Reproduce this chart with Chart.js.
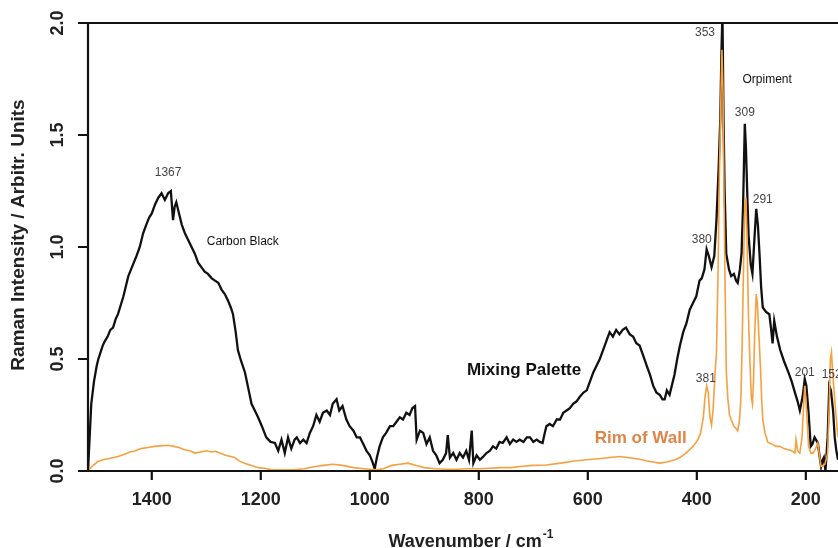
<!DOCTYPE html>
<html>
<head>
<meta charset="utf-8">
<script src="https://cdn.jsdelivr.net/npm/chart.js@4.4.1/dist/chart.umd.min.js"></script>
<style>
html,body{margin:0;padding:0;background:#fff;}
#wrap{width:838px;height:548px;position:relative;}
</style>
</head>
<body>
<div id="wrap"><canvas id="c" width="838" height="548"></canvas></div>
<script>
// ---- Data ----
const yTicks = [0.0, 0.5, 1.0, 1.5, 2.0];
const yTickLabels = ["0.0", "0.5", "1.0", "1.5", "2.0"];
const xTicks = [1400, 1200, 1000, 800, 600, 400, 200];
const xTickLabels = ["1400", "1200", "1000", "800", "600", "400", "200"];

const paletteWn = [1517,1514,1511,1506,1501,1498,1494,1490,1486,1481,1476,1471,1466,1462,1457,1452,1447,1443,1438,1433,1428,1422,1416,1410,1405,1400,1394,1388,1382,1376,1370,1365,1361,1358,1355,1350,1345,1339,1333,1327,1321,1315,1309,1303,1297,1290,1284,1278,1272,1266,1260,1255,1251,1246,1242,1236,1229,1223,1217,1211,1205,1198,1190,1182,1174,1168,1162,1156,1150,1144,1138,1134,1128,1122,1116,1110,1104,1098,1092,1086,1079,1073,1068,1061,1056,1050,1043,1037,1030,1024,1018,1012,1006,1000,995,991,987,982,976,970,963,957,951,945,939,933,927,922,917,914,908,902,896,890,884,878,872,866,860,857,853,847,841,835,829,823,818,813,810,804,798,792,786,780,774,768,762,756,749,743,737,731,725,718,712,706,700,694,688,683,679,676,670,664,657,651,645,639,633,627,621,615,608,602,596,590,584,578,572,566,560,554,548,542,536,530,523,517,511,505,499,492,486,480,474,468,463,459,455,450,446,441,436,431,425,419,413,407,401,395,391,386,382,378,373,368,364,360,357,355,353,351,349,346,341,337,332,328,325,321,318,315,312,310,307,305,301,298,294,291,288,285,282,279,273,267,264,261,258,253,247,240,232,226,220,215,211,206,202,199,195,191,188,184,178,175,172,169,167,164,160,157,154,150,147,144,141];
const paletteVal = [0.00,0.15,0.30,0.40,0.47,0.50,0.53,0.56,0.58,0.60,0.63,0.64,0.68,0.70,0.74,0.78,0.83,0.87,0.90,0.93,0.96,1.00,1.06,1.10,1.13,1.15,1.19,1.22,1.24,1.21,1.24,1.25,1.12,1.18,1.20,1.15,1.10,1.06,1.03,1.00,0.97,0.93,0.91,0.89,0.88,0.86,0.85,0.84,0.81,0.79,0.76,0.73,0.70,0.62,0.54,0.49,0.44,0.37,0.30,0.27,0.24,0.20,0.15,0.13,0.125,0.09,0.14,0.08,0.15,0.10,0.14,0.15,0.125,0.14,0.125,0.17,0.20,0.25,0.22,0.26,0.27,0.25,0.30,0.32,0.27,0.29,0.23,0.20,0.18,0.15,0.15,0.12,0.09,0.07,0.04,0.01,0.06,0.11,0.15,0.17,0.20,0.20,0.22,0.24,0.23,0.26,0.25,0.28,0.29,0.14,0.18,0.17,0.12,0.15,0.09,0.07,0.035,0.05,0.08,0.16,0.06,0.08,0.05,0.08,0.06,0.09,0.05,0.18,0.035,0.07,0.05,0.064,0.08,0.09,0.11,0.10,0.13,0.125,0.15,0.12,0.14,0.13,0.14,0.13,0.15,0.15,0.13,0.14,0.13,0.125,0.17,0.20,0.21,0.20,0.23,0.23,0.26,0.27,0.28,0.30,0.31,0.33,0.35,0.36,0.40,0.44,0.47,0.50,0.54,0.58,0.62,0.60,0.63,0.61,0.63,0.64,0.61,0.60,0.57,0.56,0.52,0.47,0.43,0.38,0.35,0.34,0.32,0.32,0.36,0.34,0.38,0.43,0.50,0.56,0.62,0.66,0.72,0.75,0.78,0.85,0.86,0.90,0.99,0.96,0.91,0.96,1.12,1.35,1.57,1.85,2.05,1.57,1.25,0.97,0.90,0.87,0.88,0.85,0.84,0.90,0.97,1.20,1.55,1.45,1.20,1.05,0.92,0.88,1.05,1.17,1.10,0.97,0.82,0.73,0.71,0.70,0.64,0.57,0.67,0.60,0.54,0.49,0.44,0.40,0.35,0.31,0.27,0.33,0.41,0.38,0.26,0.11,0.12,0.15,0.125,0.07,0.02,0.05,0.06,0.00,0.15,0.38,0.36,0.27,0.15,0.09,0.05];

const rimWn = [1517,1510,1500,1490,1480,1470,1462,1450,1440,1430,1420,1407,1395,1385,1370,1360,1350,1340,1330,1321,1310,1300,1290,1284,1275,1265,1255,1248,1240,1230,1217,1205,1193,1180,1160,1140,1120,1100,1085,1068,1050,1030,1010,990,975,960,945,930,915,900,880,860,840,820,800,780,760,740,725,700,676,650,625,602,580,560,541,520,500,492,480,468,455,440,431,420,407,398,393,388,385,382,379,376,373,370,367,364,361,359,356,354,352,350,348,346,343,340,337,332,328,325,322,319,317,314,312,310,308,305,302,300,298,296,294,291,289,286,283,281,279,275,270,267,262,255,248,240,232,226,220,218,215,211,207,204,202,200,197,195,191,187,182,178,175,172,168,165,160,157,155,153,151,148,144,141];
const rimVal = [0.00,0.02,0.04,0.05,0.055,0.06,0.065,0.075,0.085,0.09,0.10,0.105,0.11,0.112,0.115,0.11,0.105,0.095,0.09,0.08,0.085,0.09,0.085,0.088,0.08,0.07,0.065,0.06,0.045,0.035,0.025,0.015,0.012,0.005,0.005,0.005,0.01,0.02,0.025,0.03,0.025,0.015,0.01,0.005,0.01,0.025,0.03,0.035,0.025,0.015,0.01,0.008,0.008,0.01,0.01,0.012,0.015,0.015,0.02,0.025,0.027,0.035,0.045,0.05,0.055,0.06,0.065,0.058,0.05,0.045,0.04,0.035,0.04,0.05,0.06,0.08,0.11,0.14,0.17,0.24,0.33,0.38,0.35,0.24,0.205,0.28,0.42,0.53,0.90,1.27,1.65,1.88,1.70,1.20,0.80,0.45,0.32,0.25,0.23,0.20,0.19,0.18,0.22,0.33,0.55,0.95,1.19,1.22,1.05,0.67,0.45,0.33,0.30,0.40,0.60,0.79,0.75,0.60,0.45,0.32,0.23,0.17,0.13,0.125,0.12,0.11,0.11,0.10,0.095,0.09,0.08,0.14,0.09,0.08,0.15,0.30,0.38,0.32,0.20,0.11,0.08,0.08,0.10,0.125,0.07,0.02,0.025,0.03,0.08,0.30,0.50,0.53,0.45,0.35,0.23,0.15];

const peakLabels = ["1367","353","309","291","380","381","201","152"];
const peakLabelWn = [1370,385,312,279,391,383.5,202,171];
const peakLabelVal = [1.33,1.955,1.60,1.21,1.033,0.413,0.44,0.43];

const noteLabels = ["Carbon Black","Orpiment"];
const noteLabelWn = [1233,271];
const noteLabelVal = [1.025,1.745];

const seriesNames = ["Mixing Palette","Rim of Wall"];
const seriesNameWn = [717,503];
const seriesNameVal = [0.448,0.146];

const yTitle = "Raman Intensity / Arbitr. Units";
const xTitle = "Wavenumber / cm";
const xTitleSup = "-1";

// ---- Chart ----
const toXY = (xs, ys) => xs.map((x, i) => ({x: x, y: ys[i]}));
const FONT = '"Liberation Sans", Arial, Helvetica, sans-serif';
const ORANGE = '#f7a040';

const decor = {
  id: 'decor',
  afterDraw(chart) {
    const ctx = chart.ctx;
    const xs = chart.scales.x, ys = chart.scales.y;
    const {left, right, top, bottom} = chart.chartArea;
    ctx.save();
    // axes
    ctx.strokeStyle = '#111';
    ctx.lineWidth = 2.2;
    ctx.beginPath();
    ctx.moveTo(left - 10, top); ctx.lineTo(right, top);
    ctx.moveTo(left, top); ctx.lineTo(left, bottom);
    ctx.moveTo(left - 10, bottom); ctx.lineTo(right, bottom);
    yTicks.forEach(v => { const y = ys.getPixelForValue(v); ctx.moveTo(left - 10, y); ctx.lineTo(left, y); });
    xTicks.forEach(w => { const x = xs.getPixelForValue(w); ctx.moveTo(x, bottom); ctx.lineTo(x, bottom + 9); });
    ctx.stroke();

    // tick labels
    ctx.fillStyle = '#222';
    ctx.font = 'bold 18px ' + FONT;
    ctx.textAlign = 'center';
    ctx.textBaseline = 'middle';
    xTicks.forEach((w, i) => ctx.fillText(xTickLabels[i], xs.getPixelForValue(w), 500));
    yTicks.forEach((v, i) => {
      ctx.save();
      ctx.translate(58, ys.getPixelForValue(v));
      ctx.rotate(-Math.PI / 2);
      ctx.fillText(yTickLabels[i], 0, 0);
      ctx.restore();
    });

    // titles
    ctx.save();
    ctx.font = 'bold 19px ' + FONT;
    ctx.translate(19, 235);
    ctx.rotate(-Math.PI / 2);
    ctx.fillText(yTitle, 0, 0);
    ctx.restore();

    ctx.textAlign = 'left';
    ctx.textBaseline = 'alphabetic';
    ctx.font = 'bold 18px ' + FONT;
    const mw = ctx.measureText(xTitle).width;
    ctx.font = 'bold 12px ' + FONT;
    const sw = ctx.measureText(xTitleSup).width;
    const x0 = 471 - (mw + sw + 1) / 2;
    ctx.font = 'bold 18px ' + FONT;
    ctx.fillText(xTitle, x0, 547);
    ctx.font = 'bold 12px ' + FONT;
    ctx.fillText(xTitleSup, x0 + mw + 1, 538);

    // annotations
    ctx.textAlign = 'center';
    ctx.textBaseline = 'middle';
    ctx.font = '12px ' + FONT;
    ctx.fillStyle = '#444';
    peakLabels.forEach((t, i) => {
      ctx.textAlign = (t === '152') ? 'left' : 'center';
      ctx.fillText(t, xs.getPixelForValue(peakLabelWn[i]), ys.getPixelForValue(peakLabelVal[i]));
    });
    ctx.textAlign = 'center';
    ctx.fillStyle = '#111';
    noteLabels.forEach((t, i) => ctx.fillText(t, xs.getPixelForValue(noteLabelWn[i]), ys.getPixelForValue(noteLabelVal[i])));
    ctx.font = 'bold 17px ' + FONT;
    const nameColors = ['#111', '#de8445'];
    seriesNames.forEach((t, i) => {
      ctx.fillStyle = nameColors[i];
      ctx.fillText(t, xs.getPixelForValue(seriesNameWn[i]), ys.getPixelForValue(seriesNameVal[i]));
    });
    ctx.restore();
  }
};

new Chart(document.getElementById('c'), {
  type: 'line',
  data: {
    datasets: [
      {
        label: seriesNames[1],
        data: toXY(rimWn, rimVal),
        borderColor: ORANGE,
        borderWidth: 1.6,
        pointRadius: 0,
        tension: 0,
        fill: false,
        order: 0
      },
      {
        label: seriesNames[0],
        data: toXY(paletteWn, paletteVal),
        borderColor: '#111',
        borderWidth: 2.3,
        pointRadius: 0,
        tension: 0,
        fill: false,
        order: 1
      }
    ]
  },
  options: {
    responsive: false,
    animation: false,
    devicePixelRatio: 1,
    layout: { padding: { left: 88, top: 23, right: 0, bottom: 77 } },
    plugins: { legend: { display: false }, tooltip: { enabled: false } },
    scales: {
      x: { type: 'linear', display: false, reverse: true, min: 141, max: 1517 },
      y: { type: 'linear', display: false, min: 0, max: 2 }
    }
  },
  plugins: [decor]
});
</script>
</body>
</html>
